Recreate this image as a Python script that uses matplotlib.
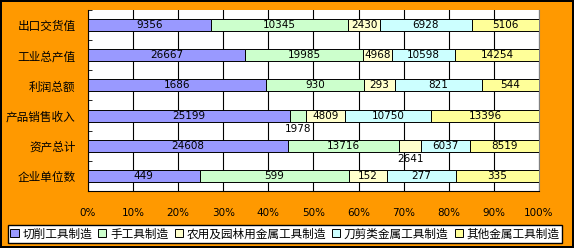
import numpy as np
import matplotlib
matplotlib.use("Agg")
import matplotlib.pyplot as plt
from matplotlib.ticker import FuncFormatter

plt.rcParams['font.family'] = ['Noto Sans CJK SC', 'DejaVu Sans']

# категории снизу вверх
categories = ['企业单位数', '资产总计', '产品销售收入', '利润总额', '工业总产值', '出口交货值']
series_names = ['切削工具制造', '手工具制造', '农用及园林用金属工具制造', '刀剪类金属工具制造', '其他金属工具制造']
cutting = [449, 24608, 25199, 1686, 26667, 9356]
hand = [599, 13716, 1978, 930, 19985, 10345]
farm = [152, 2641, 4809, 293, 4968, 2430]
knife = [277, 6037, 10750, 821, 10598, 6928]
other = [335, 8519, 13396, 544, 14254, 5106]
colors = ['#9999FF', '#CCFFCC', '#FFFFCC', '#CCFFFF', '#FFFF99']

values = np.array([cutting, hand, farm, knife, other], dtype=float)
shares = values / values.sum(axis=0)

fig = plt.figure(figsize=(5.74, 2.48), dpi=100)
fig.patch.set_facecolor('#FF9900')
fig.patch.set_edgecolor('black')
fig.patch.set_linewidth(1.5)
ax = fig.add_axes([0.1533, 0.2298, 0.7857, 0.73])
ax.set_facecolor('white')

y = np.arange(len(categories))
left = np.zeros(len(categories))
for i in range(len(series_names)):
    ax.barh(y, shares[i], left=left, height=0.4, color=colors[i],
            edgecolor='black', linewidth=0.7, label=series_names[i], zorder=3)
    for j in range(len(categories)):
        cx = left[j] + shares[i, j] / 2
        if shares[i, j] < 0.05:
            # маленький сегмент - подпись под полосой
            ax.text(cx, y[j] - 0.45, f'{int(values[i, j])}', ha='center', va='center',
                    fontsize=7.5, family='DejaVu Sans', zorder=4)
        else:
            ax.text(cx, y[j], f'{int(values[i, j])}', ha='center', va='center',
                    fontsize=7.5, family='DejaVu Sans', zorder=4)
    left += shares[i]

ax.set_xlim(0, 1)
ax.set_ylim(-0.5, len(categories) - 0.5)
ax.set_xticks(np.arange(0, 1.01, 0.1))
ax.xaxis.set_major_formatter(FuncFormatter(lambda v, p: f'{int(round(v * 100))}%'))
ax.grid(axis='x', color='black', linewidth=0.8, zorder=0)
ax.set_yticks(y)
ax.set_yticklabels(categories, fontsize=8.4)
ax.set_yticks(np.arange(-0.5, len(categories), 1), minor=True)
ax.tick_params(axis='y', which='major', length=0, pad=9)
ax.tick_params(axis='y', which='minor', length=3, direction='in', color='black')
ax.tick_params(axis='x', length=0, pad=12, labelsize=7.5)
for lab in ax.get_xticklabels():
    lab.set_family('DejaVu Sans')

ax.spines['left'].set_color('black')
ax.spines['bottom'].set_color('black')
ax.spines['top'].set_visible(False)
ax.spines['right'].set_color('#808080')

leg = fig.legend(loc='center', bbox_to_anchor=(0.4965, 0.057), ncol=5, fontsize=8.4,
                 frameon=True, fancybox=False, edgecolor='black', framealpha=1,
                 handlelength=0.7, handleheight=0.7, handletextpad=0.3,
                 columnspacing=0.55, borderpad=0.2, borderaxespad=0)
leg.get_frame().set_linewidth(1.0)

fig.savefig('out.png', dpi=100, facecolor=fig.get_facecolor(), edgecolor=fig.get_edgecolor())
